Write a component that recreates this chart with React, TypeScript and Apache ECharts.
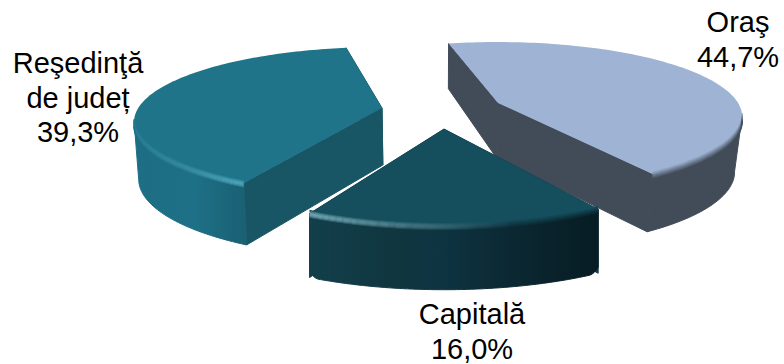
import React, { useEffect, useRef } from "react";
import * as echarts from "echarts";

const categories = ["Oraş", "Capitală", "Reşedinţă\nde județ"];
const shares = [44.7, 16.0, 39.3];
const sharesTotal = 100;
const startAngle = -12;

type Cfg = {
  cx: number; cy: number; sx: number; sy: number; rot: number; conv: number; round: number;
  back: number; apex: number; front: number;
  top: string; cut: string;
  wall: [number, string][];
  hi: [number, number][]; hiColor: string;
  lx: number; ly: number;
};

const styles: Cfg[] = [
  {
    cx: 498, cy: 103, sx: 0.98, sy: 1, rot: -2, conv: 0.975, round: 0, back: 45, apex: 55, front: 58,
    top: "#9FB4D4", cut: "#424C59",
    wall: [[0, "#424C59"], [1, "#424C59"]],
    hi: [[0, 0], [1, 0]], hiColor: "#ffffff",
    lx: 738, ly: 5,
  },
  {
    cx: 444, cy: 129, sx: 1.03, sy: 1.1, rot: 0, conv: 1, round: 6, back: 55, apex: 60, front: 64,
    top: "#154F5E", cut: "#113F4B",
    wall: [[0, "#123F4B"], [0.3, "#10363F"], [0.45, "#0E3442"], [0.7, "#0B2832"], [1, "#071C23"]],
    hi: [[0, 0.85], [0.25, 0.55], [0.5, 0.25], [0.7, 0], [1, 0]], hiColor: "#7FB4C0",
    lx: 472, ly: 297,
  },
  {
    cx: 382, cy: 108, sx: 0.995, sy: 1, rot: 2, conv: 0.985, round: 0, back: 45, apex: 57, front: 62,
    top: "#1F7489", cut: "#195665",
    wall: [[0, "#1D6E84"], [0.55, "#1E7086"], [0.85, "#1B6578"], [1, "#1A6073"]],
    hi: [[0, 0.2], [0.5, 0.45], [0.9, 0.9], [1, 0.9]], hiColor: "#4FA9BE",
    lx: 78, ly: 46,
  },
];

const A = 245, B = 72, K = 0.181, VP = 440;
const FONT = 29, LINE = 34.5;

function rgb(h: string) {
  return [1, 3, 5].map((i) => parseInt(h.slice(i, i + 2), 16));
}
function mix(a: string, b: string, t: number) {
  const p = rgb(a), q = rgb(b);
  return "#" + p.map((v, i) => Math.round(v + (q[i] - v) * t).toString(16).padStart(2, "0")).join("");
}
function sample<T>(stops: [number, T][], pos: number, f: (a: T, b: T, t: number) => T): T {
  for (let i = 1; i < stops.length; i++) {
    if (pos <= stops[i][0]) {
      const t = (pos - stops[i - 1][0]) / (stops[i][0] - stops[i - 1][0] || 1);
      return f(stops[i - 1][1], stops[i][1], t);
    }
  }
  return stops[stops.length - 1][1];
}
const lerp = (a: number, b: number, t: number) => a + (b - a) * t;

function renderSlice(params: any, api: any) {
  const idx = params.dataIndex;
  const c = styles[idx];
  let before = 0;
  for (let i = 0; i < idx; i++) before += shares[i];
  const value = api.value(0);
  const a0 = startAngle + c.rot + (before / sharesTotal) * 360;
  const a1 = a0 + (value / sharesTotal) * 360;

  const proj = (theta: number): number[] => {
    const r = (theta * Math.PI) / 180;
    const u = Math.sin(r), v = -Math.cos(r);
    const w = 1 - K * v;
    return [c.cx + (c.sx * A * u) / w, c.cy + (c.sy * B * v) / w];
  };
  const low = (p: number[]): number[] => {
    const dy = p[1] - c.cy;
    const d = dy < 0 ? lerp(c.apex, c.back, Math.min(1, -dy / 60)) : lerp(c.apex, c.front, Math.min(1, dy / 80));
    return [VP + (p[0] - VP) * c.conv, p[1] + d];
  };

  const N = 120;
  const arcAngles: number[] = [];
  for (let i = 0; i <= N; i++) arcAngles.push(a0 + ((a1 - a0) * i) / N);
  const rim = arcAngles.map(proj);
  const apex = [c.cx, c.cy];
  const children: any[] = [];

  const front = rim.filter((p, i) =>
    (i < N && rim[i + 1][0] < p[0]) || (i > 0 && p[0] < rim[i - 1][0]));
  const first = front[0], last = front[front.length - 1];
  const lowFront = front.map((p) => {
    const q = low(p);
    if (!c.round) return q;
    const dist = Math.min(Math.abs(p[0] - first[0]), Math.abs(p[0] - last[0]));
    const s = Math.max(0, 1 - dist / (c.round * 1.5));
    return [q[0], q[1] - c.round * s * s];
  });

  const wallGrad = new echarts.graphic.LinearGradient(0, 0, 1, 0,
    c.wall.map(([offset, color]) => ({ offset, color })));

  [rim[0], rim[N]].forEach((p) => {
    children.push({
      type: "polygon",
      shape: { points: [apex, p, low(p), low(apex)] },
      style: { fill: c.cut, stroke: c.cut, lineWidth: 1 },
    });
  });
  children.push({
    type: "polygon",
    shape: { points: [...front, ...lowFront.slice().reverse()] },
    style: { fill: wallGrad, stroke: wallGrad, lineWidth: 1 },
  });
  children.push({
    type: "polygon",
    shape: { points: [apex, ...rim] },
    style: { fill: c.top },
  });

  const ROWS = 9;
  for (let r = 0; r < ROWS; r++) {
    const t = r / (ROWS - 1);
    const off = -3 + r;
    const stops: any[] = [];
    for (let s = 0; s <= 10; s++) {
      const pos = s / 10;
      const wall = sample(c.wall, pos, mix);
      const h = sample(c.hi, pos, lerp) * Math.sin(Math.PI * t);
      stops.push({ offset: pos, color: mix(mix(c.top, wall, t), c.hiColor, h) });
    }
    children.push({
      type: "polyline",
      shape: { points: front.map((p) => [p[0], p[1] + off]) },
      style: {
        fill: "none",
        lineWidth: 1.4,
        stroke: new echarts.graphic.LinearGradient(0, 0, 1, 0, stops),
      },
    });
  }

  const lines = [...categories[idx].split("\n"), value.toFixed(1).replace(".", ",") + "%"];
  lines.forEach((line, i) => {
    children.push({
      type: "text",
      style: {
        text: line,
        x: c.lx,
        y: c.ly + (LINE - FONT) / 2 + i * LINE,
        align: "center",
        verticalAlign: "top",
        fontFamily: "Liberation Sans",
        fontSize: FONT,
        lineHeight: FONT,
        fill: "#000000",
      },
    });
  });
  return { type: "group", children };
}

export default function App() {
  const ref = useRef<HTMLDivElement>(null);
  useEffect(() => {
    document.body.style.margin = "0";
    const chart = echarts.init(ref.current!, undefined, { renderer: "svg" });
    chart.setOption({
      animation: false,
      backgroundColor: "#ffffff",
      series: [
        {
          type: "custom",
          coordinateSystem: "none",
          silent: true,
          data: shares.map((v) => [v]),
          renderItem: renderSlice,
        },
      ],
    });
    return () => chart.dispose();
  }, []);
  return <div ref={ref} style={{ width: 784, height: 364 }} />;
}
